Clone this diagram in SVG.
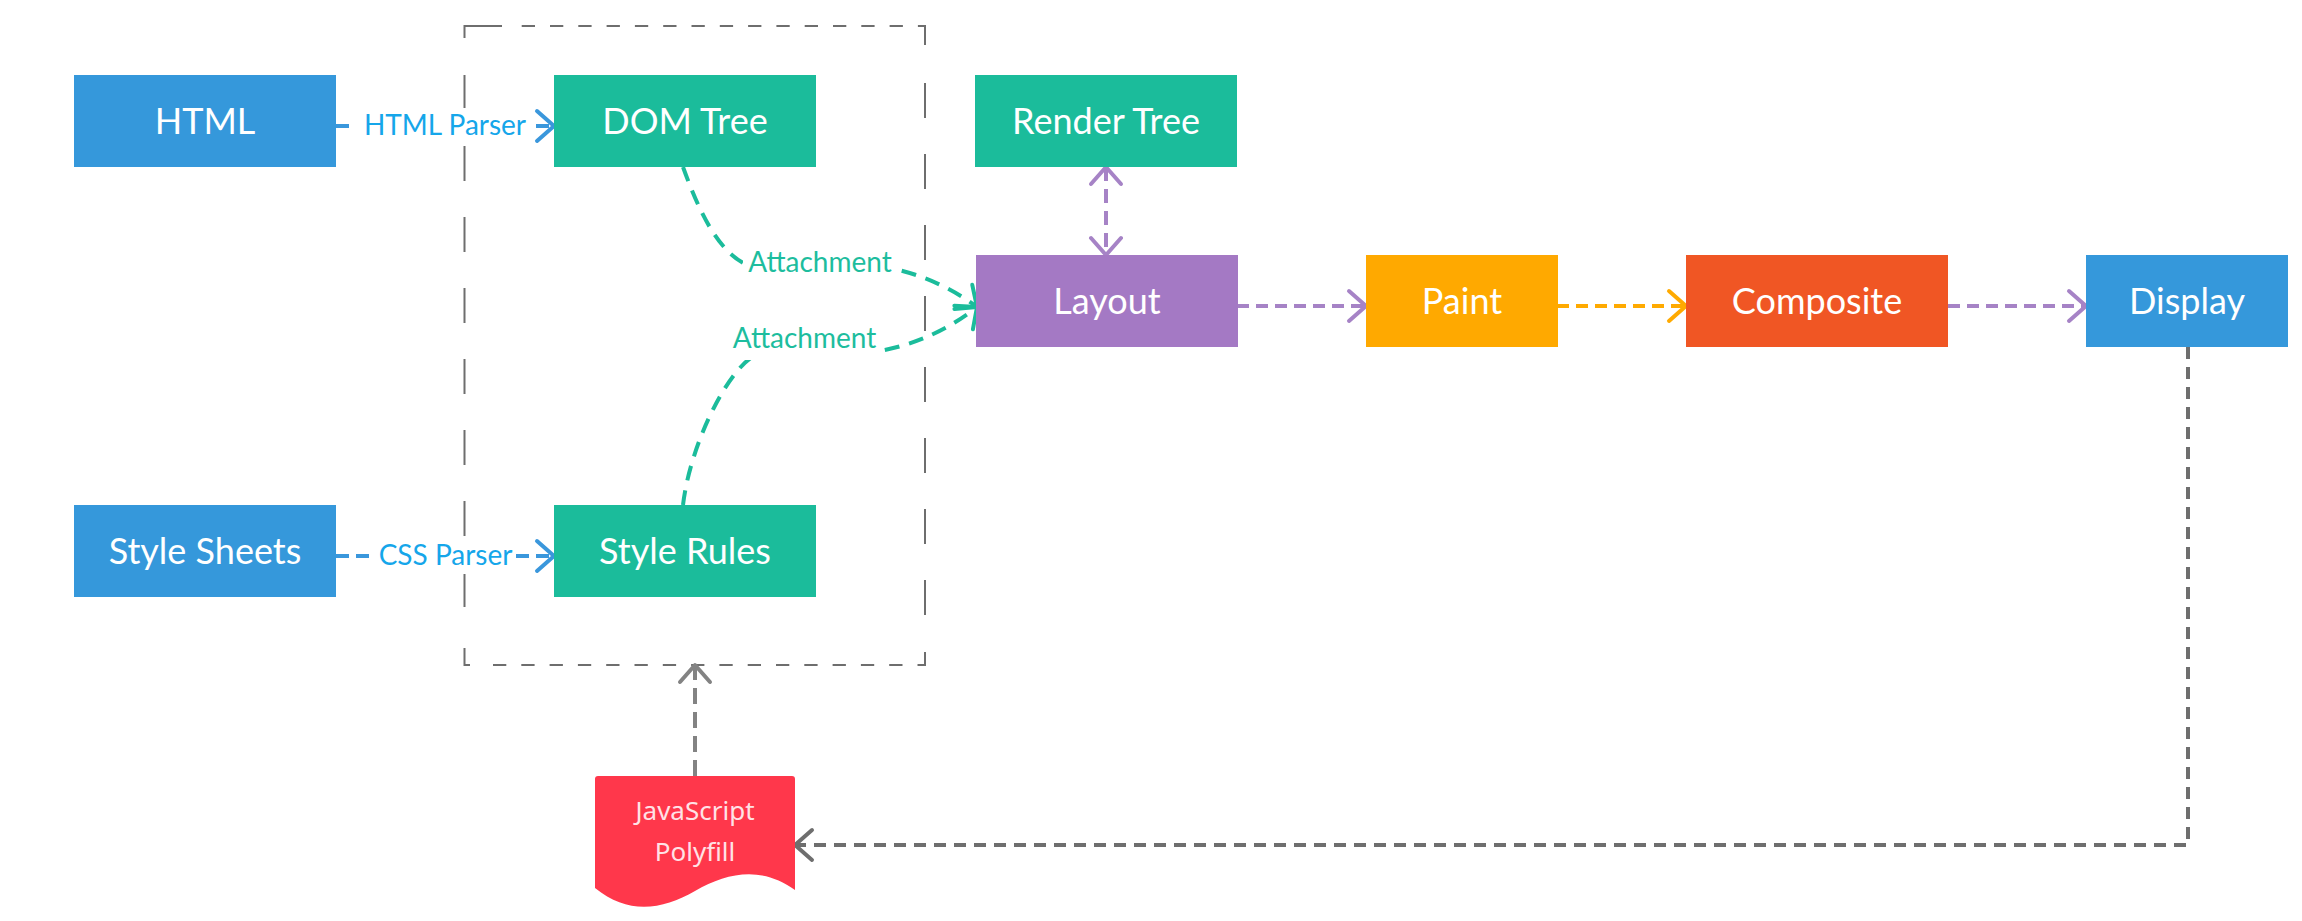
<svg xmlns="http://www.w3.org/2000/svg" width="2302" height="921" viewBox="0 0 2302 921">
<style>
.node text{font-family:Lato,"Liberation Sans",sans-serif;font-size:36px;fill:#ffffff;text-anchor:middle}
.lbl{font-family:Lato,"Liberation Sans",sans-serif;font-size:28px;text-anchor:middle}
.cn{fill:none;stroke-width:4}
.box{stroke:none}
.frame{fill:none;stroke:#6e6e6e;stroke-width:2}
</style>
<defs>
<marker id="mBlue" markerUnits="userSpaceOnUse" viewBox="-22 -20 26 40" markerWidth="26" markerHeight="40" refX="0" refY="0" orient="auto"><path d="M-17,-15 L0,0 L-17,15" fill="none" stroke="#3a97dc" stroke-width="4" stroke-linecap="round" stroke-linejoin="round"/></marker>
<marker id="mGreen" markerUnits="userSpaceOnUse" viewBox="-22 -20 26 40" markerWidth="26" markerHeight="40" refX="0" refY="0" orient="auto"><path d="M-17,-15 L0,0 L-17,15" fill="none" stroke="#1bbc9b" stroke-width="4" stroke-linecap="round" stroke-linejoin="round"/></marker>
<marker id="mPurple" markerUnits="userSpaceOnUse" viewBox="-22 -20 26 40" markerWidth="26" markerHeight="40" refX="0" refY="0" orient="auto-start-reverse"><path d="M-17,-15 L0,0 L-17,15" fill="none" stroke="#a683c6" stroke-width="4" stroke-linecap="round" stroke-linejoin="round"/></marker>
<marker id="mOrange" markerUnits="userSpaceOnUse" viewBox="-22 -20 26 40" markerWidth="26" markerHeight="40" refX="0" refY="0" orient="auto"><path d="M-17,-15 L0,0 L-17,15" fill="none" stroke="#ffaa00" stroke-width="4" stroke-linecap="round" stroke-linejoin="round"/></marker>
<marker id="mGray" markerUnits="userSpaceOnUse" viewBox="-22 -20 26 40" markerWidth="26" markerHeight="40" refX="0" refY="0" orient="auto"><path d="M-17,-15 L0,0 L-17,15" fill="none" stroke="#6e6e6e" stroke-width="4" stroke-linecap="round" stroke-linejoin="round"/></marker>
<marker id="mGray2" markerUnits="userSpaceOnUse" viewBox="-22 -20 26 40" markerWidth="26" markerHeight="40" refX="0" refY="0" orient="auto"><path d="M-17,-15 L0,0 L-17,15" fill="none" stroke="#838383" stroke-width="4" stroke-linecap="round" stroke-linejoin="round"/></marker>
</defs>
<rect width="2302" height="921" fill="#ffffff"/>

<g id="container">
<path class="frame" d="M464.5,38 V26 H502"/>
<path class="frame" d="M521.7,26 H919" stroke-dasharray="13.3 15"/>
<path class="frame" d="M919,26 H925 V45"/>
<path class="frame" d="M925,83 V620" stroke-dasharray="35 36"/>
<path class="frame" d="M925,652 V665 H920"/>
<path class="frame" d="M493,665 H920" stroke-dasharray="13.3 15"/>
<path class="frame" d="M470,665 H464.5 V648"/>
<path class="frame" d="M464.5,75 V610" stroke-dasharray="35 36"/>
</g>

<g id="connectors">
<path class="cn" d="M336,126 H554" stroke="#3a97dc" stroke-dasharray="13 7" marker-end="url(#mBlue)"/>
<path class="cn" d="M336,556 H554" stroke="#3a97dc" stroke-dasharray="13 7" marker-end="url(#mBlue)"/>
<path class="cn" d="M683,167 C700,214 718,250 745,264 C820,262 900,250 977,307" stroke="#1bbc9b" stroke-dasharray="15 10" marker-end="url(#mGreen)"/>
<path class="cn" d="M683,505 C690,446 725,375 752,357 C790,345 884,380 977,307" stroke="#1bbc9b" stroke-dasharray="15 10" marker-end="url(#mGreen)"/>
<path class="cn" d="M1106,167 V255" stroke="#a683c6" stroke-width="3.5" stroke-dasharray="14 8" marker-start="url(#mPurple)" marker-end="url(#mPurple)"/>
<path class="cn" d="M1237,306 H1366" stroke="#a683c6" stroke-dasharray="12 7" marker-end="url(#mPurple)"/>
<path class="cn" d="M1557,306 H1686" stroke="#ffaa00" stroke-dasharray="12 7" marker-end="url(#mOrange)"/>
<path class="cn" d="M1948,306 H2086" stroke="#a683c6" stroke-dasharray="12 7" marker-end="url(#mPurple)"/>
<path class="cn" d="M2188,347 V845 H795" stroke="#6e6e6e" stroke-dasharray="12 8" marker-end="url(#mGray)"/>
<path class="cn" d="M695,776 V665" stroke="#838383" stroke-dasharray="16 8" marker-end="url(#mGray2)"/>

<rect x="354" y="108" width="180" height="38" fill="#ffffff"/>
<text class="lbl" x="445" y="135" fill="#15a6ea">HTML Parser</text>
<rect x="372" y="538" width="144" height="36" fill="#ffffff"/>
<text class="lbl" x="445.5" y="565" fill="#15a6ea">CSS Parser</text>
<rect x="743" y="246" width="155" height="36" fill="#ffffff"/>
<text class="lbl" x="820" y="272" fill="#1dbd9e">Attachment</text>
<rect x="728" y="322" width="156" height="38" fill="#ffffff"/>
<text class="lbl" x="804.5" y="348" fill="#1dbd9e">Attachment</text>
</g>

<g id="html" class="node"><rect class="box" x="74" y="75" width="262" height="92" fill="#3598db"/><text x="205" y="134">HTML</text></g>
<g id="style-sheets" class="node"><rect class="box" x="74" y="505" width="262" height="92" fill="#3598db"/><text x="205" y="564">Style Sheets</text></g>
<g id="dom-tree" class="node"><rect class="box" x="554" y="75" width="262" height="92" fill="#1bbc9b"/><text x="685" y="134">DOM Tree</text></g>
<g id="style-rules" class="node"><rect class="box" x="554" y="505" width="262" height="92" fill="#1bbc9b"/><text x="685" y="564">Style Rules</text></g>
<g id="render-tree" class="node"><rect class="box" x="975" y="75" width="262" height="92" fill="#1bbc9b"/><text x="1106" y="134">Render Tree</text></g>
<g id="layout" class="node"><rect class="box" x="976" y="255" width="262" height="92" fill="#a479c4"/><text x="1107" y="314">Layout</text></g>
<g id="paint" class="node"><rect class="box" x="1366" y="255" width="192" height="92" fill="#ffa900"/><text x="1462" y="314">Paint</text></g>
<g id="composite" class="node"><rect class="box" x="1686" y="255" width="262" height="92" fill="#f05624"/><text x="1817" y="314">Composite</text></g>
<g id="display" class="node"><rect class="box" x="2086" y="255" width="202" height="92" fill="#3598db"/><text x="2187" y="314">Display</text></g>
<g id="js-polyfill">
<path d="M595,779 Q595,776 598,776 H792 Q795,776 795,779 V890 C762,866 728,872 695,891 C662,910 628,915 595,888 Z" fill="#ff374b"/>
<text x="695" y="820" font-family="'Noto Sans','Open Sans',sans-serif" font-size="26" fill="#ffe2e6" text-anchor="middle">JavaScript</text>
<text x="695" y="861" font-family="'Noto Sans','Open Sans',sans-serif" font-size="26" fill="#ffe2e6" text-anchor="middle">Polyfill</text>
</g>
</svg>
